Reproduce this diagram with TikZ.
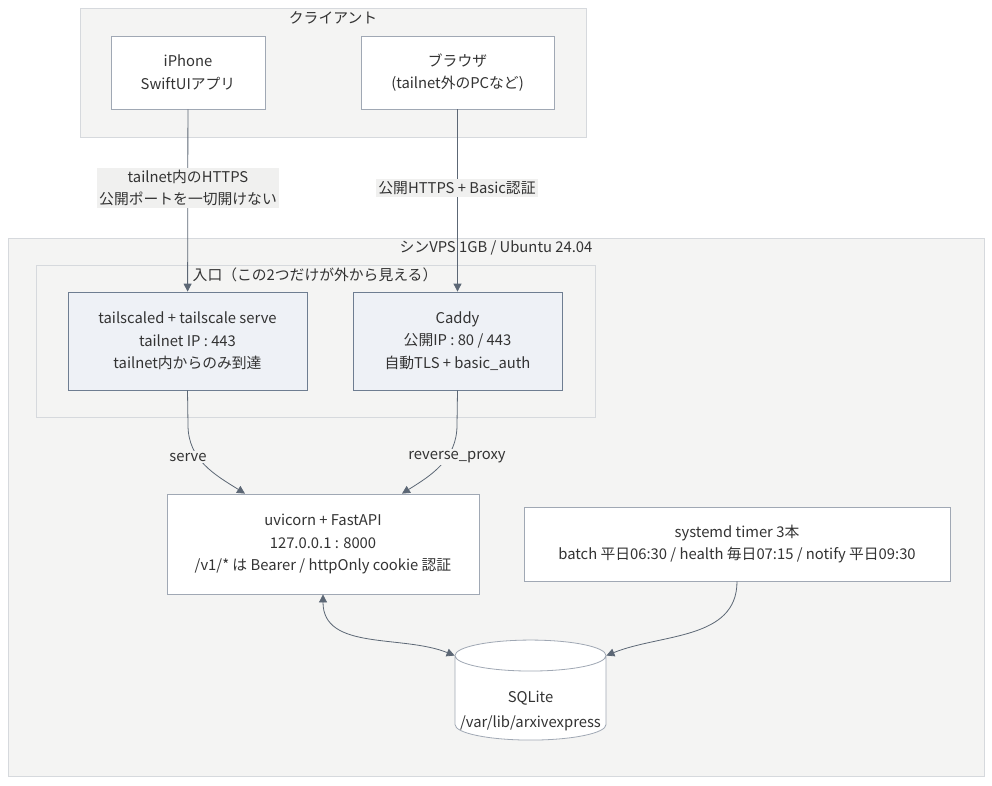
\documentclass[tikz,border=0pt]{standalone}
\usepackage{fontspec}
\setmainfont{Noto Sans CJK JP}
\usetikzlibrary{arrows.meta, positioning, shapes.geometric}
\definecolor{lineC}{RGB}{92,103,117}
\definecolor{groupF}{RGB}{244,244,243}
\definecolor{groupD}{RGB}{214,217,221}
\definecolor{entryF}{RGB}{238,241,246}
\definecolor{entryD}{RGB}{110,125,145}
\definecolor{boxD}{RGB}{160,168,180}
\definecolor{textC}{RGB}{51,51,51}
\definecolor{labelF}{RGB}{240,240,239}

\begin{document}
\begin{tikzpicture}[
    x=1pt, y=-1pt,
    every node/.style={font=\fontsize{14.8}{22.5}\selectfont, text=textC},
    group/.style={draw=groupD, fill=groupF, line width=1pt},
    title/.style={inner sep=0pt},
    box/.style={rectangle, draw=boxD, fill=white, line width=0.8pt, align=center, inner sep=0pt},
    entry/.style={box, draw=entryD, fill=entryF},
    dbbox/.style={draw=boxD, fill=white, line width=0.8pt, inner sep=0pt,
                  cylinder, shape border rotate=90, aspect=0.22},
    arrow/.style={-{Triangle[length=8pt,width=8pt]}, lineC, line width=0.8pt},
    elabel/.style={fill=labelF, align=center, inner sep=2pt}
  ]
    \useasboundingbox (0,0) rectangle (992,785);

    % Groups
    \draw[group] (80,8) rectangle (586,137);
    \node[title] (clientT) at (333,18) {クライアント};
    \draw[group] (8,238) rectangle (984,776);
    \node[title] (vpsT) at (496,248) {シンVPS 1GB / Ubuntu 24.04};
    \draw[group] (36,265) rectangle (595,417);
    \node[title] (entryT) at (315,275) {入口（この2つだけが外から見える）};

    % Clients
    \node[box, minimum width=154, minimum height=73] (iphone) at (188,72.5)
      {iPhone\\SwiftUIアプリ};
    \node[box, minimum width=193, minimum height=73] (browser) at (457.5,72.5)
      {ブラウザ\\(tailnet外のPCなど)};

    % Entrances
    \node[entry, minimum width=239, minimum height=98] (tsd) at (187.5,341)
      {tailscaled + tailscale serve\\tailnet IP : 443\\tailnet内からのみ到達};
    \node[entry, minimum width=209, minimum height=98] (caddy) at (457.5,341)
      {Caddy\\公開IP : 80 / 443\\自動TLS + basic\_auth};

    % App, timers, DB
    \node[box, minimum width=312, minimum height=100] (uv) at (323,544)
      {uvicorn + FastAPI\\127.0.0.1 : 8000\\/v1/* は Bearer / httpOnly cookie 認証};
    \node[box, minimum width=426, minimum height=74] (timer) at (737,544)
      {systemd timer 3本\\batch 平日06:30 / health 毎日07:15 / notify 平日09:30};
    \node[dbbox, minimum width=151, minimum height=100] (sql) at (530.5,698)
      {\raisebox{-12pt}[\height][\depth]{\def\arraystretch{1.1}%
        \begin{tabular}{@{}c@{}}SQLite\\/var/lib/arxivexpress\end{tabular}}};

    % Arrows
    \draw[arrow] (iphone) -- (tsd);
    \draw[arrow] (browser) -- (caddy);
    \draw[arrow] (tsd.south) -- (188,425) to[out=-90, in=148] ([xshift=-78]uv.north);
    \draw[arrow] (caddy.south) -- (457,425) to[out=-90, in=32] ([xshift=79]uv.north);
    \draw[arrow, {Triangle[length=8pt,width=8pt]}-{Triangle[length=8pt,width=8pt]}]
      (uv.south) to[out=-90, in=158] (sql.before top);
    \draw[arrow] (timer.south) to[out=-90, in=22] (sql.after top);

    % Labels
    \node[elabel] (l1) at (188,188) {tailnet内のHTTPS\\公開ポートを一切開けない};
    \node[elabel] (l2) at (457,188) {公開HTTPS + Basic認証};
    \node[elabel, fill=groupF] (l3) at (188,457) {serve};
    \node[elabel, fill=groupF] (l4) at (457,457) {reverse\_proxy};
  \end{tikzpicture}
\end{document}
